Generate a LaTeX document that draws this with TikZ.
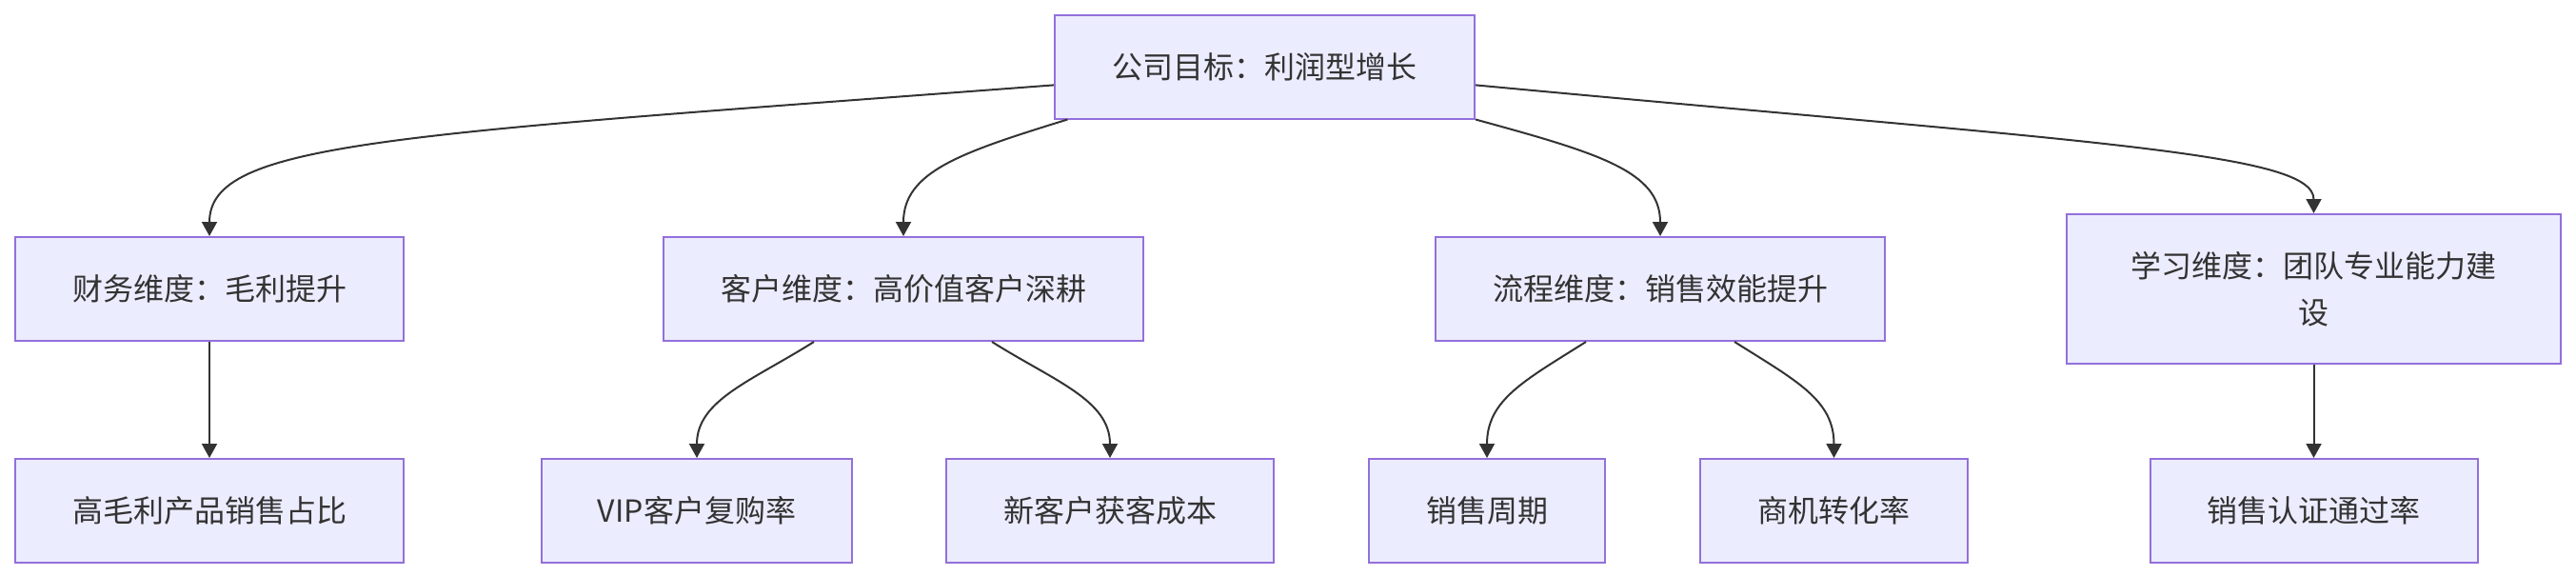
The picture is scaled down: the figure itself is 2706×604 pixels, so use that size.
\documentclass[tikz,border=0pt]{standalone}
\usepackage{fontspec}
\newfontfamily\cjk{Noto Sans CJK SC}
\usetikzlibrary{arrows.meta,calc}
\definecolor{boxfill}{HTML}{ECECFF}
\definecolor{boxline}{HTML}{9370DB}
\definecolor{edgecol}{HTML}{333333}
\begin{document}
\begin{tikzpicture}[x=0.75pt,y=-0.75pt,
  box/.style={draw=boxline,line width=1.5pt,fill=boxfill,text=edgecol,
    font=\cjk\fontsize{24}{36.75}\selectfont,inner sep=0pt,align=center,
    minimum height=81.75pt},
  edge/.style={draw=edgecol,line width=1.5pt,-{Triangle[length=11.25pt,width=12pt]}}]
\fill[white] (0,0) rectangle (2706,604);
\useasboundingbox (0,0) rectangle (2706,604);

\node[box,minimum width=330.75pt] (root) at (1328.5,70) {公司目标：利润型增长};
\node[box,minimum width=306pt] (cw) at (220,303.5) {财务维度：毛利提升};
\node[box,minimum width=378pt] (kh) at (949,303.5) {客户维度：高价值客户深耕};
\node[box,minimum width=354pt] (lc) at (1744,303.5) {流程维度：销售效能提升};
\node[box,minimum width=389.25pt,minimum height=117.75pt] (xx) at (2430.5,303.5) {学习维度：团队专业能力建\\设};
\node[box,minimum width=306pt] (gao) at (220,536.5) {高毛利产品销售占比};
\node[box,minimum width=244.5pt] (vip) at (732,536.5) {VIP客户复购率};
\node[box,minimum width=258pt] (xin) at (1166,536.5) {新客户获客成本};
\node[box,minimum width=186pt] (zq) at (1562,536.5) {销售周期};
\node[box,minimum width=210.75pt] (sj) at (1926.5,536.5) {商机转化率};
\node[box,minimum width=258pt] (rz) at (2430.5,536.5) {销售认证通过率};

\draw[edge] (root.185.5) .. controls (409,142) and (220,149) .. (cw.north);
\draw[edge] (root.195) .. controls (1010,160) and (949,180) .. (kh.north);
\draw[edge] (root.south east) .. controls (1680,161) and (1744,180) .. (lc.north);
\draw[edge] (root.-5.5) .. controls (2199,150) and (2430.5,160) .. (xx.north);

\draw[edge] (cw.south) -- (gao.north);
\draw[edge] ($(kh.south)+(-94,0)$) .. controls (790,400) and (732,420) .. (vip.north);
\draw[edge] ($(kh.south)+(93,0)$) .. controls (1107,400) and (1166,420) .. (xin.north);
\draw[edge] ($(lc.south)+(-78,0)$) .. controls (1601,400) and (1562,420) .. (zq.north);
\draw[edge] ($(lc.south)+(78,0)$) .. controls (1887,400) and (1926.5,420) .. (sj.north);
\draw[edge] (xx.south) -- (rz.north);
\end{tikzpicture}
\end{document}
